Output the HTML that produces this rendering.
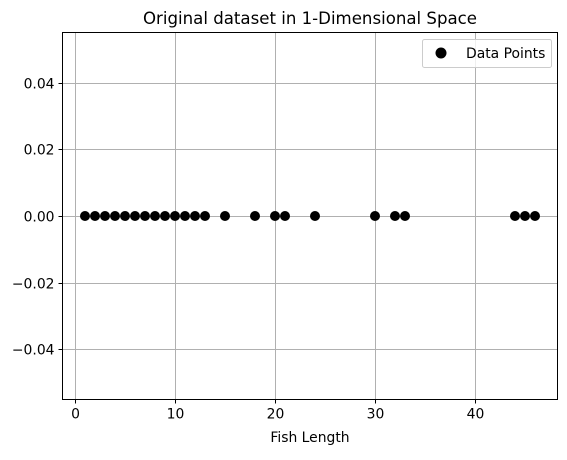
<!DOCTYPE html>
<html><head><meta charset="utf-8">
<style>
html,body{margin:0;padding:0;background:#fff;}
svg text{font-family:"DejaVu Sans","Liberation Sans",sans-serif;}
</style></head>
<body>
<svg id="chart" width="567" height="455" xmlns="http://www.w3.org/2000/svg">
<rect width="567" height="455" fill="#fff"/>
<text x="310" y="24" text-anchor="middle" font-size="16.6">Original dataset in 1-Dimensional Space</text>
<g id="grid"></g>
<g id="axes"></g>
<g id="points"></g>
<rect x="62.5" y="32.5" width="495" height="367" fill="none" stroke="#000" stroke-width="1"/>
<text x="310" y="442" text-anchor="middle" font-size="13.9">Fish Length</text>
<g>
<rect x="422.5" y="39.5" width="129" height="28" rx="2" fill="#fff" fill-opacity="0.8" stroke="#ccc"/>
<circle cx="441" cy="53" r="5.5" fill="#000"/>
<text x="466" y="58" font-size="13.9">Data Points</text>
</g>
</svg>
<script>
const lengths = [1,2,3,4,5,6,7,8,9,10,11,12,13,15,18,20,21,24,30,32,33,44,45,46];
const yValues = [0,0,0,0,0,0,0,0,0,0,0,0,0,0,0,0,0,0,0,0,0,0,0,0];
const xTicks = [0,10,20,30,40];
const yTicks = [-0.04,-0.02,0,0.02,0.04];
const yTickLabels = ["\u22120.04","\u22120.02","0.00","0.02","0.04"];

const NS="http://www.w3.org/2000/svg";
const L=62.5,R=557.5,T=32.5,B=399.5;
const xMin=-1.25,xMax=48.25,yMin=-0.055,yMax=0.055;
function xs(v){return L+(v-xMin)/(xMax-xMin)*(R-L);}
function ys(v){return B-(v-yMin)/(yMax-yMin)*(B-T);}
function mk(tag,attrs,parent){const e=document.createElementNS(NS,tag);for(const k in attrs)e.setAttribute(k,attrs[k]);parent.appendChild(e);return e;}
const grid=document.getElementById('grid'),axes=document.getElementById('axes'),pts=document.getElementById('points');
xTicks.forEach(t=>{
  const x=Math.round(xs(t))+0.5;
  const g=mk('line',{x1:x,x2:x,y1:T,y2:B,stroke:'#b0b0b0','stroke-width':1},grid);
  
  
  mk('line',{x1:x,x2:x,y1:B,y2:B+4,stroke:'#000','stroke-width':1},axes);
  const tx=mk('text',{x:x,y:B+19,'text-anchor':'middle','font-size':13.9},axes);
  tx.textContent=t;
  
  
});
yTicks.forEach((t,i)=>{
  const y=Math.round(ys(t))+0.5;
  const g=mk('line',{x1:L,x2:R,y1:y,y2:y,stroke:'#b0b0b0','stroke-width':1},grid);
  
  
  mk('line',{x1:L-4,x2:L,y1:y,y2:y,stroke:'#000','stroke-width':1},axes);
  const tx=mk('text',{x:L-8,y:y+5,'text-anchor':'end','font-size':13.9},axes);
  tx.textContent=yTickLabels[i];
  
  
});
lengths.forEach((v,i)=>{
  const c=mk('circle',{cx:xs(v),cy:ys(yValues[i]),r:5,fill:'#000'},pts);
  
  
});
</script>
</body></html>
